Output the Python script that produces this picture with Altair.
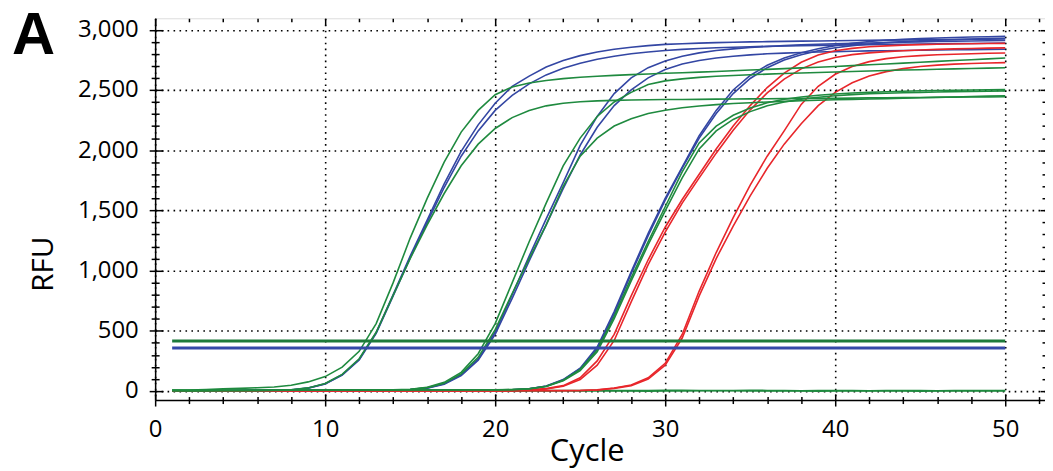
import altair as alt
import pandas as pd

cycles = list(range(1, 51))

# ---- blue curves ----
BA1 = [3,2,2,3,3,4,6,10,25,60, 135,262,485,800,1120,1420,1720,1990,2210,2390,
       2530,2615,2690,2745,2785,2815,2838,2855,2868,2878, 2884,2889,2893,2896,2899,2901,2903,2905,2907,2909,
       2911,2912,2914,2915,2917,2918,2919,2921,2922,2924]
BA2 = [2,3,2,2,4,5,6,9,24,58, 132,258,478,790,1105,1400,1690,1950,2160,2330,
       2455,2550,2625,2680,2722,2755,2780,2800,2815,2828, 2837,2844,2850,2855,2859,2862,2865,2868,2870,2872,
       2874,2876,2877,2879,2881,2883,2885,2886,2888,2890]
BB1 = [2,3,3,2,3,4,4,5,4,5, 6,6,7,9,12,26,60,135,265,490,
       800,1120,1430,1730,2040,2280,2470,2600,2685,2740, 2780,2808,2827,2841,2852,2861,2868,2874,2879,2883,
       2887,2890,2893,2896,2899,2902,2904,2906,2908,2910]
BB2 = [3,2,2,3,4,3,4,5,5,6, 5,7,8,9,11,24,57,128,255,470,
       770,1080,1380,1680,1960,2190,2370,2500,2600,2670, 2715,2745,2765,2780,2791,2800,2806,2811,2815,2818,
       2821,2824,2826,2828,2830,2832,2834,2835,2837,2838]
BC1 = [3,2,3,3,4,3,4,5,4,5, 5,6,5,6,7,6,7,8,7,6,
       10,18,42,95,190,365,660,990,1310,1600, 1860,2120,2330,2500,2620,2705,2765,2808,2842,2868,
       2888,2902,2912,2920,2926,2931,2935,2939,2942,2945]
BC2 = [2,3,2,4,3,4,5,4,5,6, 5,5,6,7,6,7,6,8,8,7,
       11,19,40,92,185,350,640,975,1290,1585, 1850,2100,2305,2470,2595,2685,2748,2792,2825,2850,
       2868,2882,2893,2901,2908,2913,2918,2922,2926,2929]

# ---- red curves ----
RD1 = [2,1,2,2,3,2,3,2,3,3, 2,3,3,2,3,3,2,3,3,3,
       5,10,20,45,110,250,470,790,1090,1360, 1590,1800,2010,2200,2370,2520,2640,2730,2790,2825,
       2845,2858,2866,2872,2876,2879,2881,2883,2885,2887]
RD2 = [1,2,2,3,2,2,3,3,2,3, 3,2,3,3,2,3,3,3,2,2,
       4,8,17,40,95,215,420,740,1050,1320, 1560,1770,1975,2165,2335,2475,2590,2675,2732,2770,
       2793,2808,2818,2826,2832,2837,2841,2844,2847,2849]
RE1 = [2,2,1,2,3,2,2,3,2,2, 3,2,2,3,3,2,3,2,3,3,
       3,4,3,4,5,10,25,50,110,230, 470,830,1150,1440,1710,1950,2160,2380,2530,2630,
       2695,2735,2760,2775,2785,2792,2797,2801,2804,2807]
RE2 = [1,2,2,2,1,3,2,2,3,2, 2,3,2,2,3,2,2,3,2,3,
       3,3,4,3,4,9,22,45,100,215, 440,790,1100,1370,1620,1850,2050,2220,2370,2480,
       2560,2615,2652,2677,2694,2706,2714,2720,2724,2727]

# ---- green curves ----
GA1 = [5,8,12,18,22,27,34,48,76,120, 198,330,560,900,1270,1600,1900,2150,2330,2460,
       2525,2558,2578,2594,2605,2614,2621,2627,2633,2638, 2643,2648,2653,2659,2665,2671,2677,2683,2689,2695,
       2702,2709,2716,2723,2730,2737,2744,2751,2758,2765]
GA2 = [4,3,3,4,5,5,7,11,26,62, 138,268,488,795,1100,1380,1640,1870,2050,2180,
       2270,2330,2368,2390,2402,2409,2413,2416,2418,2420, 2421,2422,2424,2425,2426,2427,2428,2429,2430,2431,
       2432,2434,2435,2436,2437,2439,2440,2441,2442,2444]
GB1 = [4,3,4,5,4,5,5,6,6,7, 7,8,9,11,15,32,72,155,310,560,
       900,1240,1560,1870,2100,2280,2400,2480,2545,2575, 2592,2604,2613,2620,2626,2631,2636,2641,2645,2649,
       2653,2657,2661,2665,2668,2672,2675,2678,2681,2684]
GB2 = [5,4,4,5,5,6,6,6,7,7, 8,8,9,10,13,28,64,142,280,510,
       810,1100,1380,1700,1950,2100,2200,2260,2305,2332, 2352,2367,2378,2387,2394,2400,2405,2410,2414,2418,
       2421,2425,2428,2432,2435,2438,2442,2445,2449,2452]
GC1 = [4,5,4,5,6,5,6,7,6,7, 8,7,8,9,8,9,10,9,10,9,
       12,19,40,90,180,340,620,940,1240,1530, 1820,2060,2200,2290,2350,2393,2422,2442,2456,2466,
       2474,2480,2485,2489,2493,2496,2498,2500,2502,2503]
GC2 = [5,4,5,6,5,6,6,7,7,8, 7,8,9,8,9,10,9,10,11,10,
       12,18,38,86,170,325,600,915,1215,1495, 1770,2010,2160,2255,2320,2368,2400,2424,2440,2452,
       2461,2468,2473,2477,2480,2483,2486,2488,2490,2492]

# ---- negative controls (flat) ----
NC1 = [8,6,5,4,5,6,5,4,5,6, 5,4,5,6,5,5,4,5,6,5, 6,5,5,4,5,6,5,4,5,6,
       6,5,4,5,6,5,4,3,4,5, 4,3,4,5,4,3,4,5,4,4]
NC2 = [-2,0,1,0,-1,0,1,2,1,0, 1,0,-1,0,1,2,1,0,1,0, -1,0,1,2,1,0,1,0,-1,0,
       1,2,3,2,1,0,1,0,-1,0, 1,0,1,0,-1,0,1,0,1,0]

# ---- thresholds ----
thr_green = [415]
thr_blue = [358]
thr_start = [1]
thr_end = [50]

panel_label = ["A"]

x_major = [0, 10, 20, 30, 40, 50]
x_minor = [2, 4, 6, 8, 12, 14, 16, 18, 22, 24, 26, 28, 32, 34, 36, 38, 42, 44, 46, 48, 52]
y_major = [0, 500, 1000, 1500, 2000, 2500, 3000]
y_minor = [v for v in range(100, 3100, 100) if v % 500 != 0]

BLUE = "#3346a3"
RED = "#e8262b"
GREEN = "#1f8a3f"
GREEN_T = "#1d7a3a"
BLUE_T = "#3449a8"
FONT = "Open Sans"


def long_df(named):
    rows = []
    for name, vals in named.items():
        for c, v in zip(cycles, vals):
            rows.append({"cycle": c, "rfu": v, "series": name})
    return pd.DataFrame(rows)


blue_df = long_df({"BA1": BA1, "BA2": BA2, "BB1": BB1, "BB2": BB2, "BC1": BC1, "BC2": BC2})
red_df = long_df({"RD1": RD1, "RD2": RD2, "RE1": RE1, "RE2": RE2})
green_df = long_df({"GA1": GA1, "GA2": GA2, "GB1": GB1, "GB2": GB2, "GC1": GC1, "GC2": GC2})
nc_df = long_df({"NC1": NC1, "NC2": NC2})
tg_df = pd.DataFrame({"start": thr_start, "end": thr_end, "value": thr_green})
tb_df = pd.DataFrame({"start": thr_start, "end": thr_end, "value": thr_blue})
lab_df = pd.DataFrame({"label": panel_label})

xs = alt.Scale(domain=[0, 52.34], nice=False, zero=False)
ys = alt.Scale(domain=[-75, 3095], nice=False, zero=False)


def tick_axis(orient, values, size, offset):
    return alt.Axis(orient=orient, values=values, tickSize=size, offset=offset,
                    labels=False, grid=False, domain=False, title=None,
                    tickColor="black", tickWidth=1.5)


x_main = alt.Axis(orient="bottom", values=x_major, format="d", tickSize=6, grid=True, domain=True,
                  domainColor="black", domainWidth=1.5, tickColor="black", tickWidth=1.5,
                  gridColor="black", gridDash=[1.6, 4.4], gridWidth=1.6, gridOpacity=1,
                  labelFont=FONT, labelFontSize=24, labelColor="black", labelPadding=12,
                  labelFlush=False, labelOverlap=False,
                  title="Cycle", titleFont=FONT, titleFontSize=31, titleFontWeight="normal",
                  titleColor="black", titleX=434, titleY=61, titleBaseline="alphabetic")
y_main = alt.Axis(orient="left", values=y_major, format=",.0f", tickSize=6, grid=True, domain=True,
                  domainColor="black", domainWidth=1.5, tickColor="black", tickWidth=1.5,
                  gridColor="black", gridDash=[1.6, 4.4], gridWidth=1.6, gridOpacity=1,
                  labelFont=FONT, labelFontSize=24, labelColor="black", labelPadding=11,
                  labelFlush=False, labelOverlap=False,
                  title="RFU", titleFont=FONT, titleFontSize=30, titleFontWeight="normal",
                  titleColor="black", titlePadding=19, titleY=247)


def line_layer(df, color, xa, ya):
    return alt.Chart(df).mark_line(strokeWidth=1.6, color=color).encode(
        x=alt.X("cycle:Q", scale=xs, axis=xa),
        y=alt.Y("rfu:Q", scale=ys, axis=ya),
        detail="series:N",
    )


def thr_layer(df, color, xa, ya):
    return alt.Chart(df).mark_rule(strokeWidth=3, color=color).encode(
        x=alt.X("start:Q", scale=xs, axis=xa),
        x2="end:Q",
        y=alt.Y("value:Q", scale=ys, axis=ya),
    )


l_nc = line_layer(nc_df, GREEN, x_main, y_main)
l_blue = line_layer(blue_df, BLUE,
                    tick_axis("bottom", x_major, 6, -6), tick_axis("left", y_major, 8, -8))
l_red = line_layer(red_df, RED,
                   tick_axis("bottom", x_minor, 3.5, 0), tick_axis("left", y_minor, 4, 0))
l_green = line_layer(green_df, GREEN,
                     tick_axis("bottom", x_minor, 3.5, -3.5), tick_axis("left", y_minor, 4, -4))
l_tb = thr_layer(tb_df, BLUE_T,
                 tick_axis("top", x_major, 7, -7), tick_axis("right", y_major, 5, -5))
l_tg = thr_layer(tg_df, GREEN_T,
                 tick_axis("top", x_minor, 3.5, -3.5), tick_axis("right", y_minor, 3, -3))

l_label = alt.Chart(lab_df).mark_text(
    font="Liberation Sans", fontSize=60, fontWeight="bold", color="black",
    align="left", baseline="alphabetic"
).encode(text="label:N", x=alt.value(-144), y=alt.value(36))

chart = alt.layer(l_nc, l_blue, l_red, l_green, l_tb, l_tg, l_label).resolve_axis(
    x="independent", y="independent"
).properties(
    width=895, height=384,
    autosize=alt.AutoSizeParams(type="none"),
    padding={"left": 148, "top": 9, "right": 0, "bottom": 70},
).configure_view(stroke="black", strokeWidth=1.5).configure(background="white")

chart.save("out.html", embed_options={"renderer": "svg", "actions": False})
